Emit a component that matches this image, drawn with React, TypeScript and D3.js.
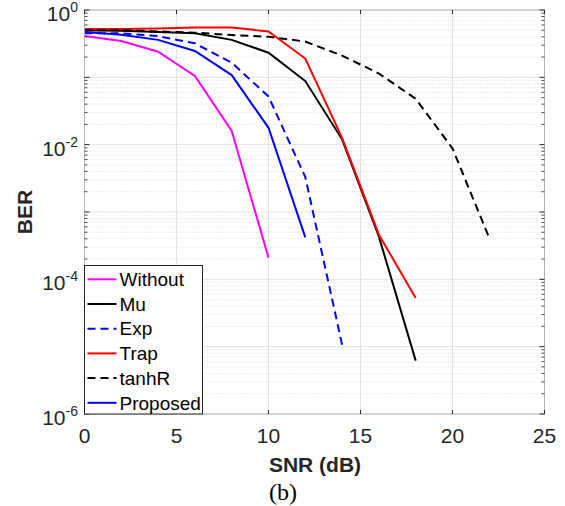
import React from 'react';
import * as d3 from 'd3';

// SNR values (dB)
const snrA = [0, 2, 4, 6, 8, 10];
const snrB = [0, 2, 4, 6, 8, 10, 12];
const snrC = [0, 2, 4, 6, 8, 10, 12, 14];
const snrD = [0, 2, 4, 6, 8, 10, 12, 14, 16, 18];
const snrE = [0, 2, 4, 6, 8, 10, 12, 14, 16, 18, 20, 22];

// BER
const berWithout = [0.41, 0.346, 0.24, 0.105, 0.016, 2.1e-4];
const berMu = [0.5, 0.49, 0.47, 0.45, 0.36, 0.232, 0.088, 0.012, 4.3e-4, 6.2e-6];
const berExp = [0.45, 0.45, 0.41, 0.32, 0.165, 0.052, 3.3e-3, 1.07e-5];
const berTrap = [0.52, 0.52, 0.53, 0.55, 0.55, 0.48, 0.19, 0.0126, 4.6e-4, 5.3e-5];
const berTanhR = [0.5, 0.5, 0.48, 0.46, 0.425, 0.4, 0.34, 0.21, 0.114, 0.048, 0.0088, 4.1e-4];
const berProposed = [0.47, 0.43, 0.36, 0.246, 0.108, 0.0178, 4.2e-4];

const series = [
  { name: 'Without', x: snrA, y: berWithout, color: '#ff00ff', dash: null },
  { name: 'Mu', x: snrD, y: berMu, color: '#000000', dash: null },
  { name: 'Exp', x: snrC, y: berExp, color: '#0000ff', dash: '8,5' },
  { name: 'Trap', x: snrD, y: berTrap, color: '#ff0000', dash: null },
  { name: 'tanhR', x: snrE, y: berTanhR, color: '#000000', dash: '8,5' },
  { name: 'Proposed', x: snrB, y: berProposed, color: '#0000ff', dash: null },
];

const xTicks = [0, 5, 10, 15, 20, 25];
const yExps = [0, -2, -4, -6];

const W = 565;
const H = 506;
const left = 84.5;
const right = 544.5;
const top = 10;
const bottom = 414;
const font = '"Liberation Sans", Arial, sans-serif';
const tickColor = '#262626';

export default function App() {
  const x = d3.scaleLinear().domain([0, 25]).range([left, right]);
  const y = d3.scaleLog().domain([1e-6, 1]).range([bottom, top]);

  const minor: number[] = [];
  for (let e = -6; e < 0; e++) {
    for (let m = 2; m <= 9; m++) minor.push(m * Math.pow(10, e));
  }
  const decades = d3.range(-6, 1).map((e) => Math.pow(10, e));
  const line = d3
    .line<[number, number]>()
    .x((d) => x(d[0]))
    .y((d) => y(d[1]));

  const legX = left;
  const legY = 265.5;
  const legW = 118;
  const rowH = 24.7;

  return (
    <svg width={W} height={H} style={{ display: 'block', position: 'absolute', left: 0, top: 0 }}>
      <rect width={W} height={H} fill="#fff" />
      {/* minor grid */}
      {minor.map((v, i) => (
        <line key={'mg' + i} x1={left} x2={right} y1={y(v)} y2={y(v)} stroke="#d4d4d4" strokeWidth={0.8} strokeDasharray="1,2" />
      ))}
      {/* major grid */}
      {decades.map((v, i) => (
        <line key={'yg' + i} x1={left} x2={right} y1={y(v)} y2={y(v)} stroke="#e3e3e3" strokeWidth={1} />
      ))}
      {xTicks.map((t) => (
        <line key={'xg' + t} x1={x(t)} x2={x(t)} y1={top} y2={bottom} stroke="#e3e3e3" strokeWidth={1} />
      ))}
      {/* series */}
      {series.map((s) => (
        <path
          key={s.name}
          d={line(s.x.map((v, i) => [v, s.y[i]] as [number, number])) || ''}
          fill="none"
          stroke={s.color}
          strokeWidth={2}
          strokeDasharray={s.dash || undefined}
        />
      ))}
      {/* box */}
      <rect x={left} y={top} width={right - left} height={bottom - top} fill="none" stroke="#b4b4b4" strokeWidth={1} />
      {/* ticks */}
      {xTicks.map((t) => (
        <g key={'xt' + t} stroke={tickColor} strokeWidth={1}>
          <line x1={x(t)} x2={x(t)} y1={bottom} y2={bottom - 4} />
          <line x1={x(t)} x2={x(t)} y1={top} y2={top + 4} />
        </g>
      ))}
      {decades.map((v, i) => (
        <g key={'yt' + i} stroke={tickColor} strokeWidth={1}>
          <line x1={left} x2={left + 5} y1={y(v)} y2={y(v)} />
          <line x1={right} x2={right - 5} y1={y(v)} y2={y(v)} />
        </g>
      ))}
      {minor.map((v, i) => (
        <g key={'ymt' + i} stroke={tickColor} strokeWidth={0.8}>
          <line x1={left} x2={left + 3} y1={y(v)} y2={y(v)} />
          <line x1={right} x2={right - 3} y1={y(v)} y2={y(v)} />
        </g>
      ))}
      {/* tick labels */}
      {xTicks.map((t) => (
        <text key={'xl' + t} x={x(t)} y={443} textAnchor="middle" fontFamily={font} fontSize={21} fill={tickColor}>
          {t}
        </text>
      ))}
      {yExps.map((e) => (
        <text key={'yl' + e} x={78} y={y(Math.pow(10, e)) + 11} textAnchor="end" fontFamily={font} fontSize={21} fill={tickColor}>
          10
          <tspan fontSize={14} dy={-9}>{e}</tspan>
        </text>
      ))}
      {/* axis labels */}
      <text x={315} y={471.5} textAnchor="middle" fontFamily={font} fontSize={21} fontWeight="bold" fill={tickColor}>
        SNR (dB)
      </text>
      <text
        transform={`translate(32,212) rotate(-90)`}
        textAnchor="middle"
        fontFamily={font}
        fontSize={21}
        fontWeight="bold"
        fill={tickColor}
      >
        BER
      </text>
      <text x={283} y={500} textAnchor="middle" fontFamily='"Liberation Serif", "Times New Roman", serif' fontSize={24} fill="#000">
        (b)
      </text>
      {/* legend */}
      <rect x={legX} y={legY} width={legW} height={bottom - legY} fill="#fff" stroke="#262626" strokeWidth={1} />
      {series.map((s, i) => {
        const cy = legY + 13.8 + i * rowH;
        return (
          <g key={'lg' + s.name}>
            <line x1={legX + 3} x2={legX + 32} y1={cy} y2={cy} stroke={s.color} strokeWidth={2} strokeDasharray={s.dash || undefined} />
            <text x={legX + 35} y={cy + 6.7} fontFamily={font} fontSize={19} fill="#000">
              {s.name}
            </text>
          </g>
        );
      })}
    </svg>
  );
}
